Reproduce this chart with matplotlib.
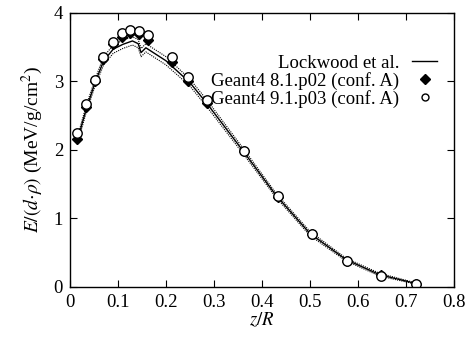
import matplotlib
matplotlib.use("Agg")
import matplotlib.pyplot as plt
import numpy as np

plt.rcParams["font.family"] = ["Liberation Serif", "DejaVu Serif"]
plt.rcParams["mathtext.fontset"] = "stix"
plt.rcParams["font.size"] = 13.5

# Lockwood et al. measurement (solid) and its uncertainty band (dotted)
lock_z = [0.015, 0.033, 0.052, 0.070, 0.090, 0.110, 0.130, 0.142, 0.148, 0.158,
          0.200, 0.250, 0.285, 0.360, 0.430, 0.500, 0.575, 0.645, 0.715]
lock_e = [2.13, 2.58, 2.98, 3.30, 3.47, 3.54, 3.59, 3.55, 3.42, 3.49,
          3.30, 2.98, 2.68, 1.99, 1.33, 0.78, 0.40, 0.18, 0.06]
lock_err = [0.05, 0.05, 0.05, 0.06, 0.06, 0.06, 0.06, 0.06, 0.06, 0.06,
            0.06, 0.05, 0.05, 0.04, 0.03, 0.03, 0.02, 0.02, 0.01]

# Geant4 simulations
g4_z = [0.015, 0.033, 0.052, 0.069, 0.089, 0.109, 0.125, 0.143, 0.163,
        0.212, 0.246, 0.285, 0.3625, 0.434, 0.505, 0.578, 0.649, 0.720]
g4_81 = [2.16, 2.62, 3.00, 3.33, 3.55, 3.65, 3.70, 3.69, 3.60,
         3.28, 3.00, 2.68, 1.98, 1.32, 0.77, 0.38, 0.17, 0.05]
g4_91 = [2.24, 2.67, 3.02, 3.36, 3.57, 3.70, 3.75, 3.74, 3.68,
         3.36, 3.07, 2.73, 1.99, 1.33, 0.77, 0.38, 0.165, 0.05]

fig = plt.figure(figsize=(4.67, 3.47), dpi=100)
ax = fig.add_axes([0.150, 0.173, 0.822, 0.790])

lo = np.array(lock_e) - np.array(lock_err)
hi = np.array(lock_e) + np.array(lock_err)
ax.plot(lock_z, lo, color="black", lw=0.8, ls=(0, (1, 1)))
ax.plot(lock_z, hi, color="black", lw=0.8, ls=(0, (1, 1)))
ax.plot(lock_z, lock_e, color="black", lw=1.0, label="Lockwood et al.")
ax.plot(g4_z, g4_81, ls="none", marker="D", ms=5, mfc="black", mec="black",
        label="Geant4 8.1.p02 (conf. A)")
ax.plot(g4_z, g4_91, ls="none", marker="o", ms=6.8, mfc="white", mec="black",
        mew=1.0, label="Geant4 9.1.p03 (conf. A)")

ax.set_xlim(0, 0.8)
ax.set_ylim(0, 4)
ax.set_xticks(np.arange(0, 0.81, 0.1))
ax.set_xticklabels(["0", "0.1", "0.2", "0.3", "0.4", "0.5", "0.6", "0.7", "0.8"])
ax.set_yticks([0, 1, 2, 3, 4])
ax.tick_params(direction="in", top=True, right=True, length=5, width=0.8, pad=5)
for s in ax.spines.values():
    s.set_linewidth(1.0)

ax.set_xlabel(r"$z/R$", labelpad=0)
ax.set_ylabel(r"$E/(d{\cdot}\rho)$ (MeV/g/cm$^2$)", fontsize=14, labelpad=6)

handles, labels = ax.get_legend_handles_labels()
leg = ax.legend(handles, labels, loc="upper right", bbox_to_anchor=(0.975, 0.875),
                frameon=False, markerfirst=False, handlelength=1.3,
                handletextpad=0.7, labelspacing=0.0, borderaxespad=0)
for h in leg.legend_handles[1:]:
    h.set_markersize(5)

fig.savefig("out.png", dpi=100)
